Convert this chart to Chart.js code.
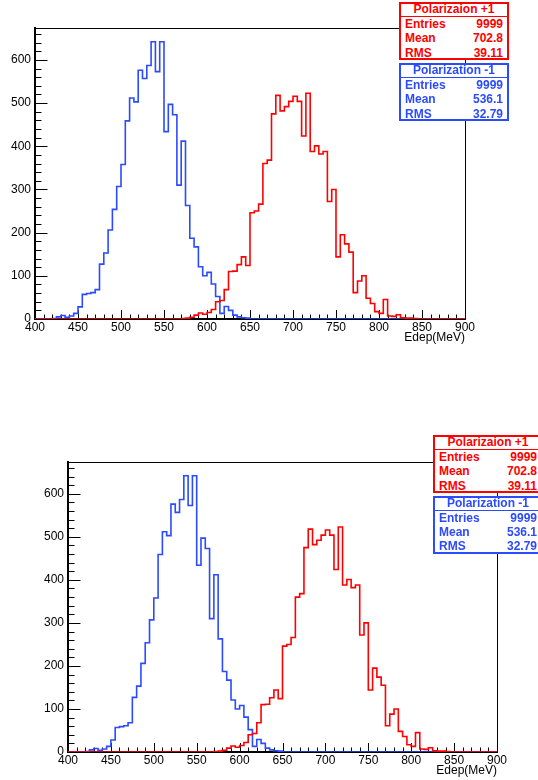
<!DOCTYPE html>
<html>
<head>
<meta charset="utf-8">
<script src="https://cdn.jsdelivr.net/npm/chart.js@4.4.1/dist/chart.umd.min.js"></script>
<style>
html,body{margin:0;padding:0;background:#fff;}
body{width:538px;height:780px;overflow:hidden;position:relative;font-family:"Liberation Sans",Arial,sans-serif;}
canvas.cv{position:absolute;left:0;}
.stat{position:absolute;box-sizing:border-box;width:110px;height:58px;background:#fff;border:2px solid;font:bold 12px "Liberation Sans",Arial,sans-serif;}
.stat .t{position:absolute;left:0;right:0;top:0;height:12px;line-height:11px;text-align:center;border-bottom:1px solid;}
.stat .r{position:absolute;left:4px;right:4px;height:14px;line-height:14px;}
.stat .r .k{position:absolute;left:0;top:0;}
.stat .r .v{position:absolute;right:0;top:0;}
</style>
</head>
<body>
<canvas id="c1" class="cv" width="538" height="390" style="top:0px"></canvas>
<canvas id="c2" class="cv" width="538" height="390" style="top:390px"></canvas>
<script>
// ---- data (histogram, 5 MeV bins from 400 to 900 MeV) ----
const binEdges = [400,405,410,415,420,425,430,435,440,445,450,455,460,465,470,475,480,485,490,495,
  500,505,510,515,520,525,530,535,540,545,550,555,560,565,570,575,580,585,590,595,
  600,605,610,615,620,625,630,635,640,645,650,655,660,665,670,675,680,685,690,695,
  700,705,710,715,720,725,730,735,740,745,750,755,760,765,770,775,780,785,790,795,
  800,805,810,815,820,825,830,835,840,845,850,855,860,865,870,875,880,885,890,895,900];

// Polarization -1 (blue)
const blueCounts = [0,0,0,0,1,5,8,4,7,13,
  28,57,59,61,68,127,153,206,254,307,
  358,459,512,503,576,557,587,642,573,642,
  434,497,473,310,412,263,187,167,121,100,
  108,81,52,13,29,20,9,5,3,2,
  0,0,0,0,0,0,0,0,0,0,
  0,0,0,0,0,0,0,0,0,0,
  0,0,0,0,0,0,0,0,0,0,
  0,0,0,0,0,0,0,0,0,0,
  0,0,0,0,0,0,0,0,0,0];

// Polarizaion +1 (red)
const redCounts = [0,0,0,0,0,0,0,0,0,0,
  0,0,0,0,0,0,0,0,0,0,
  0,0,0,0,0,0,0,0,0,0,
  0,0,0,0,1,2,4,9,14,11,
  15,22,40,43,68,110,111,126,144,124,
  246,250,266,360,368,475,518,482,492,504,
  516,504,424,523,388,401,382,388,272,300,
  144,195,174,155,61,88,100,48,36,17,
  13,45,7,6,10,3,2,2,1,0,
  0,0,0,0,0,0,0,0,0,0];

const xTicks = [400,450,500,550,600,650,700,750,800,850,900];
const yTicks = [0,100,200,300,400,500,600];
const xTitle = "Edep(MeV)";

const redStats  = {title:"Polarizaion +1",   rows:[["Entries","9999"],["Mean","702.8"],["RMS","39.11"]]};
const blueStats = {title:"Polarization -1", rows:[["Entries","9999"],["Mean","536.1"],["RMS","32.79"]]};

// ---- styles ----
const RED = "#ff0000";
const BLUE = "#2a4bff";
const FONT = '"Liberation Sans", Arial, sans-serif';
const X_MIN = 400, X_MAX = 900, Y_MIN = 0, Y_MAX = 674;

function toPoints(counts){
  const pts = counts.map((c,i)=>({x:binEdges[i], y:c}));
  pts.push({x:binEdges[binEdges.length-1], y:0});
  return pts;
}

const frameTicks = {
  id:'frameTicks',
  beforeDatasetsDraw(chart){
    const {ctx, chartArea:a, scales:{x,y}} = chart;
    ctx.save();
    ctx.strokeStyle = '#000';
    ctx.lineWidth = 1;
    ctx.strokeRect(Math.round(a.left)+0.5, Math.round(a.top)+0.5, Math.round(a.right-a.left), Math.round(a.bottom-a.top));
    ctx.beginPath();
    const xMinor = 10, xMajor = 50;
    for(let v=X_MIN; v<=X_MAX; v+=xMinor){
      const px = Math.round(x.getPixelForValue(v))+0.5;
      const len = (v % xMajor === 0) ? 9 : 4.5;
      ctx.moveTo(px, a.bottom); ctx.lineTo(px, a.bottom-len);
    }
    const yMinor = 20, yMajor = 100;
    for(let v=Y_MIN; v<=Y_MAX; v+=yMinor){
      const py = Math.round(y.getPixelForValue(v))+0.5;
      const len = (v % yMajor === 0) ? 12.5 : 6.5;
      ctx.moveTo(a.left, py); ctx.lineTo(a.left+len, py);
    }
    ctx.stroke();
    ctx.restore();
  },
  afterDraw(chart){
    const {ctx, chartArea:a} = chart;
    ctx.save();
    ctx.fillStyle = '#000';
    ctx.font = '12px ' + FONT;
    ctx.textAlign = 'right';
    ctx.textBaseline = 'middle';
    ctx.fillText(xTitle, a.right, a.bottom+19);
    ctx.restore();
  }
};

function makeChart(id, yWidth, padRight, padTop, xHeight){
  return new Chart(document.getElementById(id), {
    type:'line',
    data:{datasets:[
      {label:redStats.title, data:toPoints(redCounts), borderColor:RED, borderWidth:1.6, stepped:'before', pointRadius:0, fill:false, tension:0},
      {label:blueStats.title, data:toPoints(blueCounts), borderColor:BLUE, borderWidth:1.6, stepped:'before', pointRadius:0, fill:false, tension:0}
    ]},
    options:{
      responsive:false, animation:false, devicePixelRatio:1,
      layout:{padding:{left:0,right:padRight,top:padTop,bottom:0}},
      plugins:{legend:{display:false}, tooltip:{enabled:false}, title:{display:false}},
      scales:{
        x:{type:'linear', min:X_MIN, max:X_MAX,
           grid:{display:false, drawTicks:false},
           border:{display:true, color:'#000', width:2},
           afterBuildTicks:(s)=>{ s.ticks = xTicks.map(v=>({value:v})); },
           ticks:{color:'#000', font:{family:FONT, size:12}, padding:1, maxRotation:0, autoSkip:false},
           afterFit:(s)=>{ s.height = xHeight; }},
        y:{type:'linear', min:Y_MIN, max:Y_MAX,
           grid:{display:false, drawTicks:false},
           border:{display:true, color:'#000', width:2},
           afterBuildTicks:(s)=>{ s.ticks = yTicks.map(v=>({value:v})); },
           ticks:{color:'#000', font:{family:FONT, size:12}, padding:4, autoSkip:false},
           afterFit:(s)=>{ s.width = yWidth; }}
      }
    },
    plugins:[frameTicks]
  });
}

makeChart('c1', 35, 73, 28, 71);
makeChart('c2', 68, 41, 72, 28);

function makeBox(stats, color, left, top){
  const d = document.createElement('div');
  d.className = 'stat';
  d.style.left = left+'px'; d.style.top = top+'px';
  d.style.borderColor = color; d.style.color = color;
  const t = document.createElement('div');
  t.className = 't'; t.textContent = stats.title; t.style.borderColor = color;
  d.appendChild(t);
  const rowTops = [13, 27, 41.5];
  stats.rows.forEach((r,i)=>{
    const row = document.createElement('div');
    row.className = 'r'; row.style.top = rowTops[i]+'px';
    const k = document.createElement('span'); k.className='k'; k.textContent = r[0];
    const v = document.createElement('span'); v.className='v'; v.textContent = r[1];
    row.appendChild(k); row.appendChild(v);
    d.appendChild(row);
  });
  document.body.appendChild(d);
}
makeBox(redStats, RED, 399, 2);
makeBox(blueStats, BLUE, 399, 63);
makeBox(redStats, RED, 433, 435);
makeBox(blueStats, BLUE, 433, 495.5);
</script>
</body>
</html>
